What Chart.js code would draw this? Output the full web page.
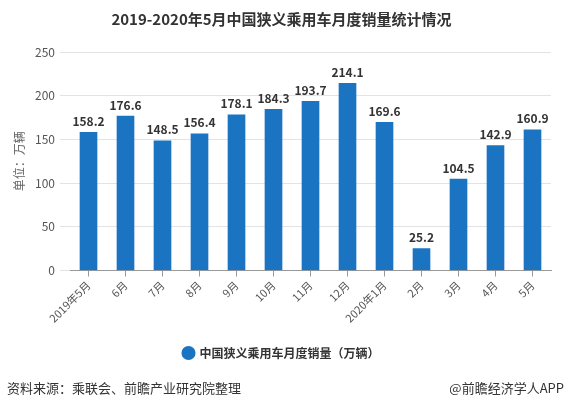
<!DOCTYPE html>
<html>
<head>
<meta charset="utf-8">
<script src="https://cdn.jsdelivr.net/npm/chart.js@4"></script>
<style>
  html, body { margin: 0; padding: 0; background: #fff; }
  #wrap { position: relative; width: 567px; height: 406px; }
  .foot { position: absolute; top: 378px; font: 13px "Noto Sans CJK SC", sans-serif; color: #333; }
  #src { left: 7px; }
  #brand { right: 3px; }
</style>
</head>
<body>
<div id="wrap">
  <canvas id="chart" width="567" height="406"></canvas>
  <div class="foot" id="src">资料来源：乘联会、前瞻产业研究院整理</div>
  <div class="foot" id="brand">@前瞻经济学人APP</div>
</div>
<script>
const months = ["2019年5月", "6月", "7月", "8月", "9月", "10月", "11月", "12月", "2020年1月", "2月", "3月", "4月", "5月"];
const sales = [158.2, 176.6, 148.5, 156.4, 178.1, 184.3, 193.7, 214.1, 169.6, 25.2, 104.5, 142.9, 160.9];
const yTicks = [0, 50, 100, 150, 200, 250];

const cjk = '"Noto Sans CJK SC", sans-serif';
const blue = "#1a74c2";

// values above each bar
const valueLabels = {
  id: "valueLabels",
  afterDatasetsDraw(chart) {
    const ctx = chart.ctx;
    const meta = chart.getDatasetMeta(0);
    ctx.save();
    ctx.font = "bold 12px " + cjk;
    ctx.fillStyle = "#333";
    ctx.textAlign = "center";
    ctx.textBaseline = "bottom";
    meta.data.forEach((bar, i) => {
      ctx.fillText(sales[i].toFixed(1), bar.x, bar.y - 5);
    });
    ctx.restore();
  }
};

new Chart(document.getElementById("chart"), {
  type: "bar",
  data: {
    labels: months,
    datasets: [
      {
        label: "中国狭义乘用车月度销量（万辆）",
        data: sales,
        backgroundColor: blue,
        borderWidth: 0,
        barThickness: 17
      }
    ]
  },
  options: {
    responsive: false,
    animation: false,
    layout: {
      padding: { left: 12, right: 16, top: 0, bottom: 37 }
    },
    plugins: {
      title: {
        display: true,
        text: "2019-2020年5月中国狭义乘用车月度销量统计情况",
        color: "#333",
        font: { family: cjk, size: 15, weight: "bold" },
        padding: { top: 10, bottom: 24 }
      },
      legend: {
        position: "bottom",
        labels: {
          usePointStyle: true,
          pointStyle: "circle",
          boxWidth: 10,
          boxHeight: 10,
          color: "#333",
          font: { family: cjk, size: 12, weight: "bold" },
          padding: 10
        }
      },
      tooltip: { enabled: false }
    },
    scales: {
      x: {
        grid: {
          offset: false,
          drawOnChartArea: false,
          drawTicks: true,
          tickLength: 6,
          color: "#999"
        },
        border: { color: "#999" },
        ticks: {
          color: "#555",
          font: { family: cjk, size: 11 },
          maxRotation: 45,
          minRotation: 45,
          autoSkip: false,
          padding: 2
        },
        afterFit(axis) {
          axis.height += 10;
        }
      },
      y: {
        min: 0,
        max: 250,
        afterBuildTicks(axis) {
          axis.ticks = yTicks.map(v => ({ value: v }));
        },
        grid: {
          color: "#e3e3e3",
          drawTicks: true,
          tickLength: 10
        },
        border: { display: false },
        ticks: {
          color: "#555",
          font: { family: cjk, size: 12 },
          padding: 5
        },
        title: {
          display: true,
          text: "单位：万辆",
          color: "#666",
          font: { family: cjk, size: 12 },
          padding: { top: 0, bottom: 4 }
        },
        afterFit(axis) {
          axis.width = 58;
        }
      }
    }
  },
  plugins: [valueLabels]
});
</script>
</body>
</html>
